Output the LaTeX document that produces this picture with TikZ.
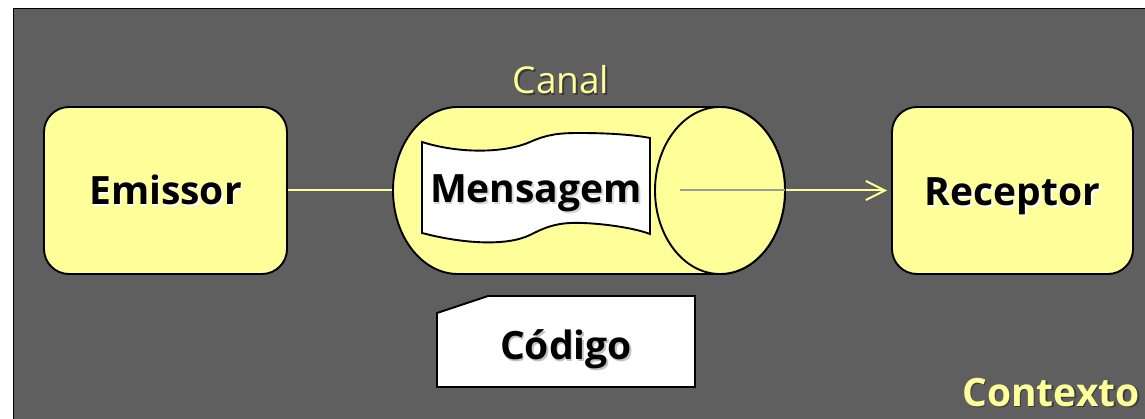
\documentclass[tikz,border=0pt]{standalone}
\usepackage{fontspec}
\setmainfont{Open Sans}
\usetikzlibrary{arrows.meta}
\definecolor{bg}{HTML}{5F5F5F}
\definecolor{lyellow}{HTML}{FFFF99}
\definecolor{ygray}{HTML}{999999}
\definecolor{dshadow}{HTML}{3A3A3A}
\newcommand\shtxt[2]{\rlap{\kern1.6pt\raisebox{-1.6pt}{\textcolor{#1}{#2}}}#2}
\tikzset{
  boxstyle/.style={draw=black, line width=1.9pt, fill=lyellow, rounded corners=25pt,
    minimum width=243pt, minimum height=167pt, inner sep=0pt},
  shapeline/.style={draw=black, line width=1.9pt},
  darktext/.style={anchor=base, inner sep=0pt, text=black, font=\fontsize{39}{41}\selectfont\bfseries},
  yeltext/.style={anchor=base, inner sep=0pt, text=lyellow, font=\fontsize{39}{41}\selectfont\bfseries},
  conn/.style={draw=lyellow, line width=2pt},
}
\begin{document}
\begin{tikzpicture}[x=1pt,y=-1pt]
\useasboundingbox (0,0) rectangle (1145,419);
% background panel
\fill[bg] (13.5,8.5) rectangle (1145,419);
\draw[black, line width=1.8pt] (13.5,419) -- (13.5,8.5) -- (1145,8.5);

% Emissor and Receptor
\node[boxstyle] (em) at (165.5,190.5) {};
\node[boxstyle, minimum width=241pt] (rc) at (1012.5,190.5) {};

% connector (passes behind the channel)
\draw[conn, -{Straight Barb[length=19pt, width=19pt, line width=2pt]}, shorten >=4pt] (em.east) -- (rc.west);

% channel cylinder
\coordinate (cylL) at (393,190.5);
\coordinate (cylR) at (785,190.5);
\coordinate (cylIn) at (680,190.5);
\path[shapeline, fill=lyellow] (458,107) -- (720,107)
  arc[start angle=-90, end angle=90, x radius=65, y radius=83.5]
  -- (458,274)
  arc[start angle=90, end angle=270, x radius=65, y radius=83.5] -- cycle;
\path[shapeline, fill=lyellow] (720,190.5) ellipse [x radius=65, y radius=83.5];

% message banner
\path[shapeline, fill=white] (422,142)
  .. controls (460,154) and (505,153) .. (530,142)
  .. controls (548,134) and (560,133) .. (580,133)
  .. controls (610,133) and (635,135) .. (650,138)
  -- (650,234)
  .. controls (632,227) and (592,222) .. (570,223)
  .. controls (552,224) and (542,229) .. (530,235)
  .. controls (505,247) and (460,243) .. (422,233) -- cycle;

% gray line inside the cylinder end
\draw[draw=ygray, line width=2pt] (cylIn) -- (cylR);

% code card
\path[shapeline, fill=white] (437,313) -- (488,296) -- (695,296) -- (695,387) -- (437,387) -- cycle;

% labels
\node[darktext] (temis) at (165.5,205) {\shtxt{white}{Emissor}};
\node[darktext] (trec) at (1012.5,205.5) {\shtxt{white}{Receptor}};
\node[darktext] (tmsg) at (536,203) {\shtxt{ygray!40}{Mensagem}};
\node[darktext] (tcod) at (566,359.5) {\shtxt{ygray!60}{Código}};
\node[yeltext, font=\fontsize{37}{40}\selectfont] (tcanal) at (561,93.5) {\shtxt{dshadow}{Canal}};
\node[yeltext] (tctx) at (1051,406) {\shtxt{dshadow}{Contexto}};
\end{tikzpicture}
\end{document}
